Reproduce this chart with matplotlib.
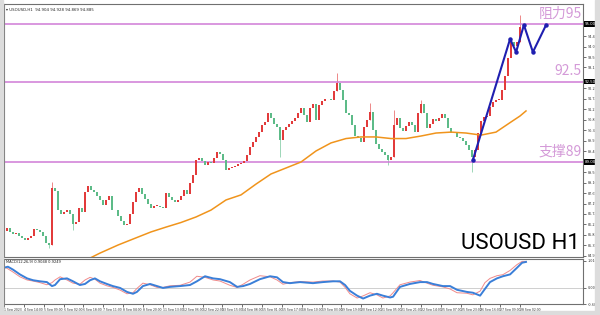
import numpy as np
import matplotlib
matplotlib.use("Agg")
import matplotlib.pyplot as plt
from matplotlib.patches import Rectangle

# hourly-ish closes (one candle per ~2.5h)
closes = [86.13, 85.96, 85.87, 85.91, 85.78, 85.70, 85.61, 85.70, 85.78, 86.09,
          86.04, 85.96, 85.78, 85.48, 85.39, 87.87, 87.74, 86.91, 86.74, 86.83,
          86.91, 86.74, 86.30, 86.39, 87.00, 86.83, 87.70, 87.96, 87.78, 87.70,
          87.52, 87.35, 87.13, 87.35, 87.52, 86.91, 86.91, 86.65, 86.43, 86.26,
          86.30, 86.74, 87.26, 87.70, 87.87, 87.61, 87.39, 87.17, 87.00, 87.09,
          87.09, 87.04, 87.00, 87.65, 87.48, 87.35, 87.26, 87.35, 87.52, 87.78,
          87.61, 88.09, 88.43, 89.09, 89.17, 89.04, 88.87, 89.00, 88.96, 89.17,
          89.43, 89.35, 89.09, 88.65, 88.74, 88.78, 88.83, 88.91, 88.96, 89.04,
          89.30, 89.65, 89.87, 90.09, 90.30, 90.61, 90.74, 91.13, 90.91, 90.65,
          90.52, 89.96, 90.39, 90.52, 90.65, 90.78, 90.91, 91.13, 91.35, 91.04,
          90.74, 91.35, 91.52, 90.83, 91.48, 91.65, 91.74, 91.74, 91.70, 92.09,
          92.43, 92.13, 91.70, 91.13, 91.04, 90.61, 90.13, 90.04, 89.87, 90.52,
          90.83, 91.17, 90.39, 89.78, 89.57, 89.43, 89.30, 89.09, 89.22, 90.61,
          90.91, 90.48, 90.35, 90.57, 90.74, 90.61, 90.30, 91.13, 91.52, 91.13,
          90.48, 90.65, 90.87, 90.78, 90.91, 91.09, 90.91, 90.48, 90.26, 90.30,
          90.09, 90.04, 89.91, 89.74, 89.52, 89.22, 89.52, 90.26, 90.78, 90.96,
          91.00, 91.39, 91.61, 91.70, 91.70, 92.13, 92.74, 93.52, 94.22, 94.04,
          94.22, 94.87]
first_open = 86.00

# long wicks that stand out
wick_bars = [14, 15, 22, 91, 110, 121, 127, 129, 138, 155, 171]
wick_lo = [85.26, 85.39, 86.04, 89.22, 92.09, 90.83, 88.87, 89.22, 91.13, 88.57, 94.22]
wick_hi = [85.48, 88.13, 86.39, 90.52, 92.87, 91.57, 89.22, 91.26, 91.70, 89.22, 95.39]

# moving average (orange)
ma_bars = [27, 31, 37, 42, 48, 53, 58, 63, 68, 73, 78, 83, 88, 93, 98, 103,
           108, 113, 118, 123, 128, 133, 138, 143, 148, 153, 158, 163, 168, 171, 173]
ma_vals = [84.78, 85.04, 85.39, 85.65, 85.96, 86.17, 86.37, 86.61, 86.91, 87.35,
           87.57, 88.04, 88.48, 88.74, 89.00, 89.48, 89.83, 90.02, 90.09, 90.09,
           90.02, 90.02, 90.13, 90.26, 90.30, 90.26, 90.17, 90.30, 90.74, 91.00, 91.22]

# projected path (blue)
proj_bars = [155.3, 167.7, 169.7, 172.3, 175.3, 179.7]
proj_vals = [89.09, 94.35, 93.78, 94.96, 93.78, 94.96]

levels = [95.0, 92.5, 89.0]
level_labels = ["阻力95", "92.5", "支撑89"]

# MACD panel
macd_bars = [-1, 0.3, 2, 4.3, 6.7, 8.7, 11, 13.3, 15, 16, 17.7, 20, 22, 24.3, 26,
             27.7, 29.3, 31, 33.3, 35.3, 37.7, 40, 42, 43.3, 45.3, 47.7, 50, 52,
             54.3, 57.7, 61, 63.3, 66, 68.7, 71, 74.3, 76.7, 78.7, 81, 84.3, 87.7,
             90, 92, 94.3, 97.7, 102, 105.3, 108.7, 111, 112.7, 114.3, 116.7,
             118.7, 121, 123.3, 125.3, 127.7, 128.7, 131, 134.3, 137.7, 140, 142,
             145.3, 147.7, 150, 153.3, 155.3, 157.7, 159.3, 161, 163.3, 165.3,
             167.7, 170, 171.7, 173]
macd_blue = [0.76, 0.80, 0.69, 0.51, 0.36, 0.29, 0.25, 0.22, 0.07, 0.11, 0.33,
             0.36, 0.25, 0.11, 0.15, 0.29, 0.36, 0.25, 0.15, 0.07, 0.00, -0.15,
             -0.22, -0.15, 0.07, 0.15, 0.07, 0.00, 0.04, 0.07, 0.11, 0.25, 0.44,
             0.36, 0.33, 0.22, 0.04, 0.07, 0.15, 0.33, 0.44, 0.40, 0.22, 0.18,
             0.22, 0.18, 0.22, 0.25, 0.25, 0.11, -0.11, -0.29, -0.40, -0.29,
             -0.22, -0.29, -0.36, -0.33, 0.04, 0.15, 0.22, 0.22, 0.15, 0.07,
             0.07, -0.07, -0.15, -0.18, -0.29, -0.04, 0.22, 0.36, 0.44, 0.51,
             0.76, 0.95, 0.98]
macd_red = [0.80, 0.72, 0.60, 0.42, 0.30, 0.26, 0.20, 0.12, 0.20, 0.30, 0.42,
            0.30, 0.18, 0.14, 0.30, 0.40, 0.33, 0.18, 0.08, 0.02, -0.08, -0.22,
            -0.18, -0.02, 0.18, 0.12, 0.02, 0.02, 0.08, 0.10, 0.22, 0.44, 0.40,
            0.30, 0.26, 0.10, 0.02, 0.14, 0.30, 0.46, 0.42, 0.30, 0.14, 0.20,
            0.24, 0.22, 0.26, 0.26, 0.22, 0.02, -0.22, -0.38, -0.30, -0.18,
            -0.26, -0.38, -0.30, -0.18, 0.12, 0.22, 0.28, 0.18, 0.10, 0.04,
            -0.04, -0.18, -0.20, -0.26, -0.12, 0.20, 0.36, 0.46, 0.50, 0.66,
            0.88, 1.00, 1.00]

date_labels = ["1 Sep 2023", "4 Sep 14:00", "5 Sep 09:00", "6 Sep 02:00", "6 Sep 18:00",
               "7 Sep 11:00", "8 Sep 04:00", "8 Sep 20:00", "11 Sep 13:00", "12 Sep 06:00",
               "12 Sep 22:00", "13 Sep 15:00", "14 Sep 08:00", "15 Sep 01:00", "15 Sep 17:00",
               "18 Sep 10:00", "19 Sep 03:00", "19 Sep 19:00", "20 Sep 12:00", "21 Sep 05:00",
               "21 Sep 21:00", "22 Sep 14:00", "25 Sep 07:00", "25 Sep 23:00", "26 Sep 16:00",
               "27 Sep 09:00", "28 Sep 02:00"]

plt.rcParams['font.family'] = ['Noto Sans CJK SC', 'DejaVu Sans']

W, H = 600, 315
fig = plt.figure(figsize=(6, 3.15), dpi=100, facecolor="white")

# grey window frame
frame = "#dcdcdc"
fig.patches.append(Rectangle((0, 0), 3 / W, 1, transform=fig.transFigure, color=frame, zorder=0))
fig.patches.append(Rectangle((595 / W, 0), 5 / W, 1, transform=fig.transFigure, color=frame, zorder=0))
fig.patches.append(Rectangle((0, 0), 1, 4 / H, transform=fig.transFigure, color=frame, zorder=0))

ax = fig.add_axes([4 / W, 1 - 257 / H, 579 / W, 253 / H])
mx = fig.add_axes([4 / W, 1 - 304 / H, 579 / W, 45 / H], sharex=ax)

spine_c = "#707070"
for a in (ax, mx):
    for s in a.spines.values():
        s.set_color(spine_c)
        s.set_linewidth(0.8)
    a.set_facecolor("white")

# candles
up_c, dn_c = "#e23b3b", "#5dbb88"
opens = [first_open] + closes[:-1]
idx = np.arange(len(closes))
for i, o, c in zip(idx, opens, closes):
    col = up_c if c >= o else dn_c
    h = c - o if abs(c - o) > 0.02 else 0.02
    ax.bar(i, h, bottom=o, width=0.75, color=col, linewidth=0, zorder=3)
for b, lo, hi in zip(wick_bars, wick_lo, wick_hi):
    col = up_c if closes[b] >= opens[b] else dn_c
    ax.vlines(b, lo, hi, color=col, linewidth=0.6, alpha=0.7, zorder=2)

ax.plot(ma_bars, ma_vals, color="#f0941c", linewidth=1.1, zorder=4)

lvl_c = "#d07ad6"
txt_c = "#d49ad8"
for lv, lab in zip(levels, level_labels):
    ax.axhline(lv, color=lvl_c, linewidth=1.1, zorder=2)
    ax.text(0.998, lv + 0.15, lab, transform=ax.get_yaxis_transform(), ha="right",
            va="bottom", fontsize=10, color=txt_c, zorder=6)

ax.plot(proj_bars, proj_vals, color="#1f1fb0", linewidth=1.5, marker="o",
        markersize=2.2, zorder=5)

ax.text(0.995, 0.01, "USOUSD H1", transform=ax.transAxes, ha="right", va="bottom",
        fontsize=16, family=["Roboto", "DejaVu Sans"], color="black", zorder=6)
ax.text(0.004, 0.985, "▾ USOUSD,H1  94.904 94.928 94.869 94.885", transform=ax.transAxes,
        ha="left", va="top", fontsize=2.8, color="#222222", family=["DejaVu Sans"])

ax.set_xlim(-1, 192)
ax.set_ylim(84.87, 95.87)
ax.yaxis.tick_right()
ticks = 84.92 + 0.455 * np.arange(23)
ticks = [t for t in ticks if min(abs(t - lv) for lv in levels) > 0.2]
ax.set_yticks(ticks)
ax.set_yticklabels(["%.3f" % t for t in ticks])
ax.tick_params(axis="y", labelsize=2.8, length=2, width=0.5, pad=1.5, colors="#333333")
ax.tick_params(axis="x", bottom=False, labelbottom=False)
for lv in levels:
    ax.text(1.003, lv, "%.3f" % lv, transform=ax.get_yaxis_transform(), ha="left",
            va="center", fontsize=2.8, color="white", family=["DejaVu Sans"],
            bbox=dict(boxstyle="square,pad=0.15", fc="black", ec="none"), clip_on=False)

# MACD
mx.axhline(0, color="#c8c8c8", linewidth=0.6)
mx.plot(macd_bars, macd_red, color="#f08a8a", linewidth=0.7)
mx.plot(macd_bars, macd_blue, color="#3a7fd8", linewidth=1.4)
mx.set_ylim(-0.545, 1.09)
mx.yaxis.tick_right()
mx.set_yticks([1.0167, 0.0, -0.605])
mx.set_yticklabels(["1.0167", "0.00", "-0.605"])
mx.tick_params(axis="y", labelsize=2.8, length=2, width=0.5, pad=1.5, colors="#333333")
mx.text(0.004, 0.97, "MACD(12,26,9) 0.9048 0.9249", transform=mx.transAxes, ha="left",
        va="top", fontsize=2.6, color="#222222", family=["DejaVu Sans"])

tick_pos = -1 + 6.617 * np.arange(len(date_labels))
mx.set_xticks(tick_pos)
mx.set_xticklabels(date_labels, ha="left")
mx.tick_params(axis="x", labelsize=2.6, length=2, width=0.5, pad=1, colors="#333333")

fig.savefig("out.png", dpi=100, facecolor=fig.get_facecolor())
